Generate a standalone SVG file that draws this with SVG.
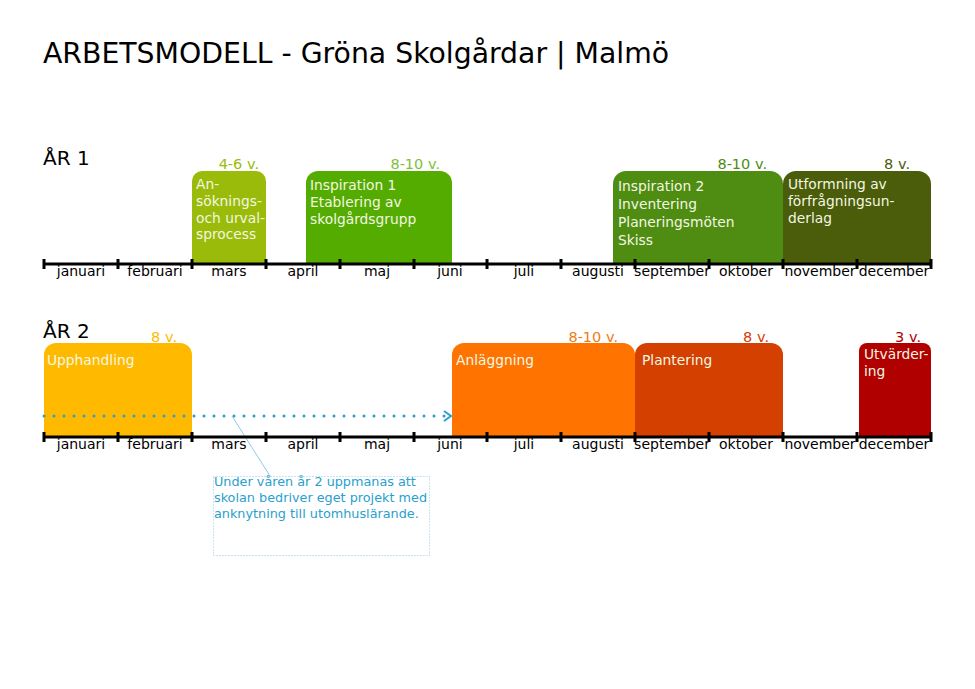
<svg xmlns="http://www.w3.org/2000/svg" width="975" height="689" viewBox="0 0 975 689">
<style>
text{font-family:"DejaVu Sans",Verdana,sans-serif}
.m{font-size:14px;fill:#000;text-anchor:middle}
.bt{font-size:13.8px;fill:#F2F7E0}
.dur{font-size:14.5px;text-anchor:end}
.axis{stroke:#000;stroke-width:3}
.tick{stroke:#000;stroke-width:3}
.yr{font-size:20px;fill:#000}
.note{font-size:12.8px;fill:#2AA0CC}
</style>
<rect width="975" height="689" fill="#fff"/>
<text x="43" y="63" font-size="28.3" fill="#000">ARBETSMODELL - Gröna Skolgårdar | Malmö</text>
<text class="yr" x="43" y="165">ÅR 1</text>
<text class="yr" x="43" y="338">ÅR 2</text>

<g id="ansokning">
<path d="M192,263 V181 a10,10 0 0 1 10,-10 H256 a10,10 0 0 1 10,10 V263 Z" fill="#9BBB0A"/>
<text class="dur" x="259" y="169" fill="#9BBB0A">4-6 v.</text>
<text class="bt" x="196" y="189">An-</text>
<text class="bt" x="196" y="206">söknings-</text>
<text class="bt" x="196" y="223">och urval-</text>
<text class="bt" x="196" y="239">sprocess</text>
</g>
<g id="inspiration1">
<path d="M306,263 V183 a12,12 0 0 1 12,-12 H440 a12,12 0 0 1 12,12 V263 Z" fill="#55AC00"/>
<text class="dur" x="440" y="169" fill="#7DC23A">8-10 v.</text>
<text class="bt" x="310" y="190">Inspiration 1</text>
<text class="bt" x="310" y="207">Etablering av</text>
<text class="bt" x="310" y="224">skolgårdsgrupp</text>
</g>
<g id="inspiration2">
<path d="M613,263 V184 a13,13 0 0 1 13,-13 H770 a13,13 0 0 1 13,13 V263 Z" fill="#4F8C12"/>
<text class="dur" x="767" y="169" fill="#4F8C12">8-10 v.</text>
<text class="bt" x="618" y="191" font-size="15.9">Inspiration 2</text>
<text class="bt" x="618" y="209" font-size="15.9">Inventering</text>
<text class="bt" x="618" y="227" font-size="15.9">Planeringsmöten</text>
<text class="bt" x="618" y="245" font-size="15.9">Skiss</text>
</g>
<g id="utformning">
<path d="M783,263 V184 a13,13 0 0 1 13,-13 H918 a13,13 0 0 1 13,13 V263 Z" fill="#4B5C0A"/>
<text class="dur" x="910" y="169" fill="#4B5C0A">8 v.</text>
<text class="bt" x="788" y="189">Utformning av</text>
<text class="bt" x="788" y="206">förfrågningsun-</text>
<text class="bt" x="788" y="223">derlag</text>
</g>

<g id="upphandling">
<path d="M44,436 V355 a12,12 0 0 1 12,-12 H180 a12,12 0 0 1 12,12 V436 Z" fill="#FFBA00"/>
<text class="dur" x="177" y="342" fill="#FFBA00">8 v.</text>
<text class="bt" x="47" y="365" fill="#FFF3D0">Upphandling</text>
</g>
<g id="anlaggning">
<path d="M452,436 V355 a12,12 0 0 1 12,-12 H623 a12,12 0 0 1 12,12 V436 Z" fill="#FF7400"/>
<text class="dur" x="618" y="342" fill="#F07A20">8-10 v.</text>
<text class="bt" x="456" y="365" fill="#FFE8D0">Anläggning</text>
</g>
<g id="plantering">
<path d="M635,436 V355 a12,12 0 0 1 12,-12 H771 a12,12 0 0 1 12,12 V436 Z" fill="#D44000"/>
<text class="dur" x="769" y="342" fill="#D44000">8 v.</text>
<text class="bt" x="642" y="365" fill="#FFE0D0">Plantering</text>
</g>
<g id="utvardering">
<path d="M859,436 V351 a8,8 0 0 1 8,-8 H923 a8,8 0 0 1 8,8 V436 Z" fill="#B00000"/>
<text class="dur" x="921" y="342" fill="#B00000">3 v.</text>
<text class="bt" x="864" y="359" fill="#FFE0E0">Utvärder-</text>
<text class="bt" x="864" y="376" fill="#FFE0E0">ing</text>
</g>

<g id="note">
<rect x="213.5" y="476.5" width="216" height="79" fill="none" stroke="#8ECBE0" stroke-width="1" stroke-dasharray="1,2"/>
<text class="note" x="214" y="486">Under våren år 2 uppmanas att</text>
<text class="note" x="214" y="502">skolan bedriver eget projekt med</text>
<text class="note" x="214" y="518">anknytning till utomhuslärande.</text>
</g>

<g id="connectors">
<line x1="44" y1="416" x2="448" y2="416" stroke="#2AA0CC" stroke-width="3" stroke-linecap="round" stroke-dasharray="0,10"/>
<polyline points="444,411 451,416 444,421" fill="none" stroke="#2AA0CC" stroke-width="2"/>
<line x1="232" y1="416" x2="270" y2="476" stroke="#8ECBE0" stroke-width="1"/>
</g>

<g id="axis1">
<line class="axis" x1="44" y1="264" x2="931" y2="264"/>
<path class="tick" d="M44,259V269M118,259V269M192,259V269M266,259V269M340,259V269M414,259V269M487,259V269M561,259V269M635,259V269M709,259V269M783,259V269M857,259V269M931,259V269"/>
<text class="m" x="81" y="276">januari</text>
<text class="m" x="155" y="276">februari</text>
<text class="m" x="229" y="276">mars</text>
<text class="m" x="303" y="276">april</text>
<text class="m" x="377" y="276">maj</text>
<text class="m" x="450" y="276">juni</text>
<text class="m" x="524" y="276">juli</text>
<text class="m" x="598" y="276">augusti</text>
<text class="m" x="672" y="276">september</text>
<text class="m" x="746" y="276">oktober</text>
<text class="m" x="820" y="276">november</text>
<text class="m" x="894" y="276">december</text>
</g>
<g id="axis2">
<line class="axis" x1="44" y1="437" x2="931" y2="437"/>
<path class="tick" d="M44,432V442M118,432V442M192,432V442M266,432V442M340,432V442M414,432V442M487,432V442M561,432V442M635,432V442M709,432V442M783,432V442M857,432V442M931,432V442"/>
<text class="m" x="81" y="449">januari</text>
<text class="m" x="155" y="449">februari</text>
<text class="m" x="229" y="449">mars</text>
<text class="m" x="303" y="449">april</text>
<text class="m" x="377" y="449">maj</text>
<text class="m" x="450" y="449">juni</text>
<text class="m" x="524" y="449">juli</text>
<text class="m" x="598" y="449">augusti</text>
<text class="m" x="672" y="449">september</text>
<text class="m" x="746" y="449">oktober</text>
<text class="m" x="820" y="449">november</text>
<text class="m" x="894" y="449">december</text>
</g>
</svg>
